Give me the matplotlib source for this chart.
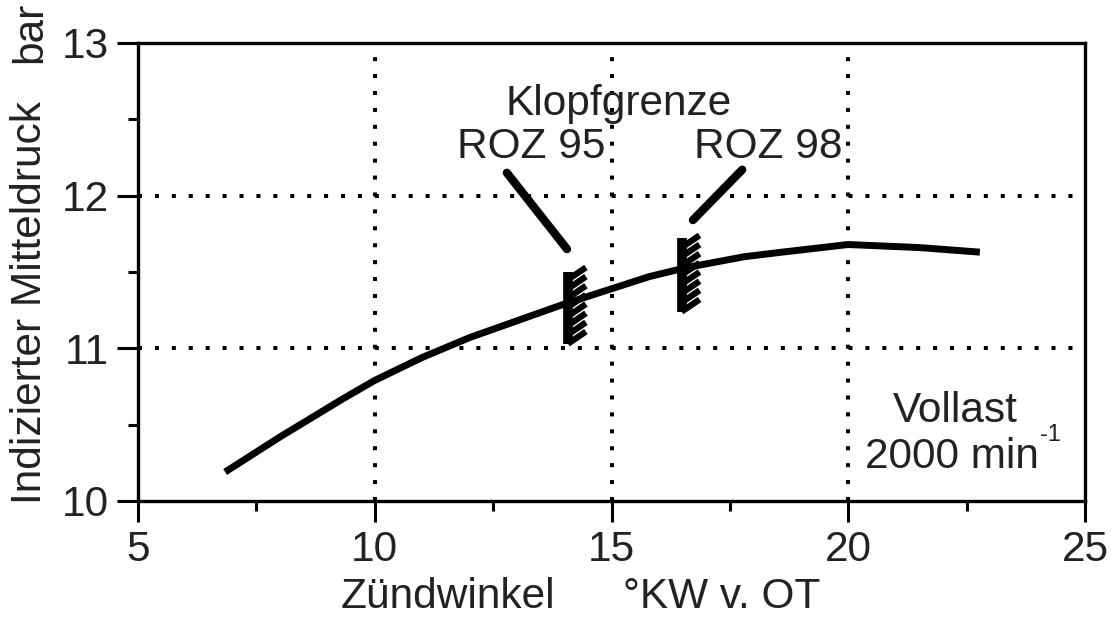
import numpy as np
import matplotlib
matplotlib.use('Agg')
import matplotlib.pyplot as plt

# ignition angle (deg CA before TDC) vs indicated mean pressure (bar)
zuendwinkel = [6.84, 8.0, 9.33, 10.0, 11.0, 12.0, 13.0, 14.0, 15.0, 15.8, 16.6, 17.8, 18.6, 20.0, 21.5, 22.78]
mitteldruck = [10.19, 10.42, 10.67, 10.79, 10.94, 11.07, 11.18, 11.29, 11.39, 11.47, 11.53, 11.60, 11.63, 11.68, 11.66, 11.63]

# knock limits
knock_labels = ['ROZ 95', 'ROZ 98']
knock_x = [14.08, 16.48]
knock_ylo = [11.03, 11.24]
knock_yhi = [11.50, 11.72]

# pointer lines (label -> knock limit)
ptr_x0 = [12.79, 17.76]
ptr_y0 = [12.15, 12.17]
ptr_x1 = [14.06, 16.72]
ptr_y1 = [11.65, 11.84]

plt.rcParams['font.family'] = ['Liberation Sans', 'DejaVu Sans']
txt = '#222222'
fs = 30.5

fig = plt.figure(figsize=(11.13, 6.19), dpi=100)
ax = fig.add_axes([138 / 1113, 1 - 501 / 619, (1085 - 138) / 1113, (501 - 43) / 619])

ax.set_xlim(5, 25)
ax.set_ylim(10, 13)
ax.set_xticks([5, 10, 15, 20, 25])
ax.set_yticks([10, 11, 12, 13])
ax.set_xticks([7.5, 12.5, 17.5, 22.5], minor=True)
ax.set_yticks([10.5, 11.5, 12.5], minor=True)
ax.tick_params(which='major', direction='out', length=15, width=2.2, labelsize=fs,
               labelcolor=txt, pad=6)
ax.tick_params(which='minor', direction='out', length=7, width=2.2)
for s in ax.spines.values():
    s.set_linewidth(2.4)

# dotted grid
for gx in [10, 15, 20]:
    ax.axvline(gx, color='black', lw=2.9, ls=(0, (1, 3.2)), zorder=1)
for gy in [11, 12]:
    ax.axhline(gy, color='black', lw=2.9, ls=(0, (1, 3.2)), zorder=1)

ax.plot(zuendwinkel, mitteldruck, color='black', lw=5, solid_capstyle='butt', zorder=3)

# knock limit markers: vertical line with dense hatching
for kx, ylo, yhi in zip(knock_x, knock_ylo, knock_yhi):
    ax.plot([kx, kx], [ylo, yhi], color='black', lw=7, solid_capstyle='butt', zorder=4)
    for hy in np.arange(ylo, yhi - 0.02, 0.06):
        ax.plot([kx, kx + 0.38], [hy, hy + 0.08], color='black', lw=4.5,
                solid_capstyle='butt', zorder=4)

for x0, y0, x1, y1 in zip(ptr_x0, ptr_y0, ptr_x1, ptr_y1):
    ax.plot([x0, x1], [y0, y1], color='black', lw=6, solid_capstyle='round', zorder=4)

ax.text(15.15, 12.6, 'Klopfgrenze', ha='center', va='center', fontsize=fs, color=txt)
ax.text(13.3, 12.32, knock_labels[0], ha='center', va='center', fontsize=fs, color=txt)
ax.text(18.3, 12.32, knock_labels[1], ha='center', va='center', fontsize=fs, color=txt)
ax.text(22.26, 10.59, 'Vollast', ha='center', va='center', fontsize=fs, color=txt)
t = ax.text(20.35, 10.29, '2000 min', ha='left', va='center', fontsize=fs, color=txt)
ax.annotate('-1', xy=(1, 0.78), xycoords=t, xytext=(1, 0), textcoords='offset points',
            ha='left', va='bottom', fontsize=17, color=txt)

fig.text(30 / 1113, 1 - 302 / 619, 'Indizierter Mitteldruck', rotation=90,
         ha='center', va='center', fontsize=fs, color=txt)
fig.text(30 / 1113, 1 - 2 / 619, 'bar', rotation=90, ha='center', va='top',
         fontsize=fs, color=txt)
fig.text(448 / 1113, 2 / 619, 'Zündwinkel', ha='center', va='bottom',
         fontsize=fs, color=txt)
fig.text(722 / 1113, 2 / 619, '°KW v. OT', ha='center', va='bottom',
         fontsize=fs, color=txt)

fig.savefig('out.png', dpi=100)
plt.close(fig)
